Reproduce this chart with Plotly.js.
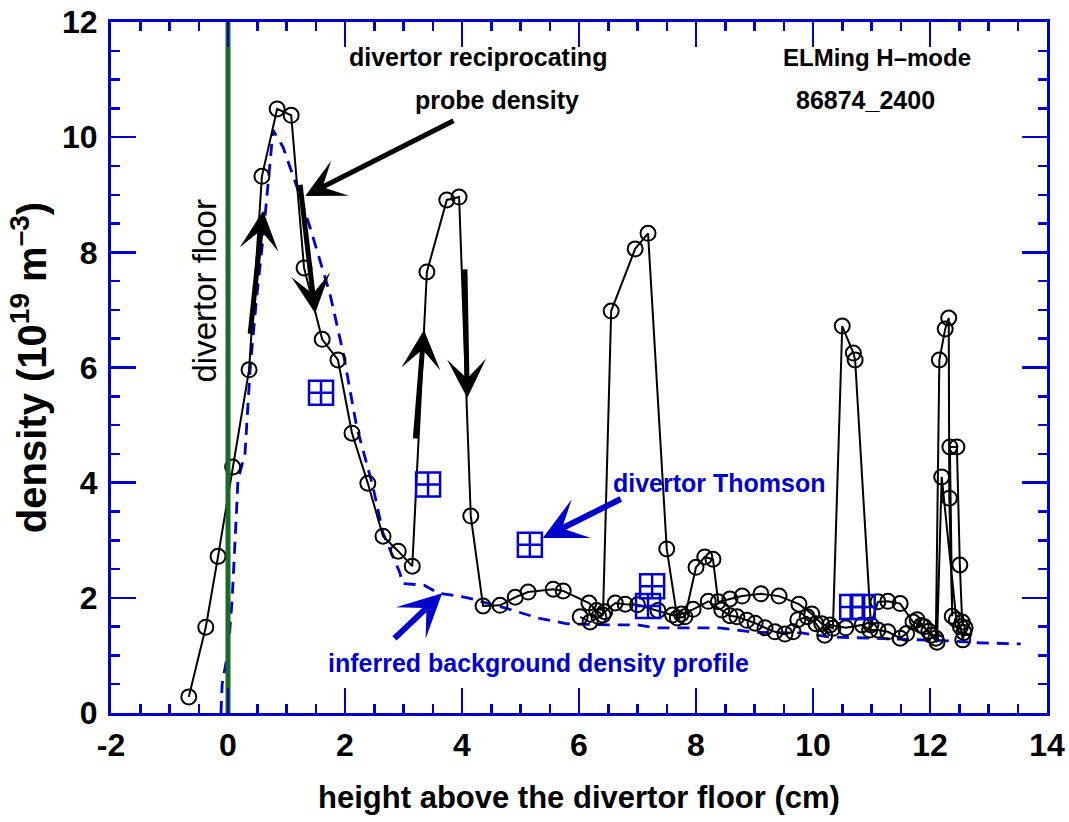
<!DOCTYPE html>
<html>
<head>
<meta charset="utf-8">
<script src="https://cdn.plot.ly/plotly-3.0.1.min.js"></script>
<style>html,body{margin:0;padding:0;background:#fff;}#chart{width:1069px;height:822px;}</style>
</head>
<body>
<div id="chart"></div>
<script>
// Reciprocating probe density (sequence in time)
var probeX = [-0.67,-0.38,-0.17,0.08,0.36,0.58,0.84,1.08,1.30,1.61,1.88,2.12,2.39,2.65,2.91,3.15,3.40,3.74,3.95,4.15,4.36,4.65,4.91,5.13,5.56,5.73,6.17,6.30,6.41,6.55,6.96,7.18,7.50,7.68,7.81,8.00,8.15,8.29,8.38,8.58,8.79,9.11,9.42,9.76,9.98,10.15,10.34,10.50,10.69,10.72,10.99,11.11,11.28,11.49,11.71,11.85,11.98,12.10,12.16,12.26,12.32,12.33,12.38,12.34,12.46,12.51,12.55,12.60,12.58,12.56,12.52,12.45,12.20,12.12,12.02,11.90,11.78,11.60,11.49,11.28,11.11,10.97,10.84,10.56,10.29,10.20,10.05,9.90,9.74,9.66,9.52,9.35,9.18,9.01,8.87,8.70,8.58,8.44,8.21,7.95,7.75,7.60,7.35,7.00,6.79,6.62,6.44,6.34,6.19,6.02];
var probeY = [0.28,1.49,2.72,4.27,5.96,9.32,10.49,10.38,7.73,6.49,6.13,4.86,3.99,3.07,2.81,2.55,7.66,8.91,8.96,3.42,1.86,1.87,2.01,2.10,2.15,2.12,1.91,1.78,1.70,6.98,8.06,8.33,2.85,1.65,1.67,2.53,2.71,2.67,1.93,1.98,2.03,2.07,2.03,1.89,1.72,1.55,1.47,6.72,6.25,6.13,1.53,1.93,1.94,1.90,1.58,1.52,1.42,1.30,6.13,6.67,6.86,3.73,1.68,4.62,4.62,2.57,1.58,1.48,1.40,1.27,1.50,1.62,4.10,1.23,1.35,1.50,1.62,1.38,1.30,1.41,1.44,1.44,1.53,1.48,1.53,1.35,1.55,1.67,1.62,1.41,1.37,1.41,1.48,1.56,1.61,1.67,1.69,1.79,1.94,1.80,1.72,1.70,1.78,1.88,1.89,1.91,1.76,1.67,1.58,1.67];

// Inferred background density profile (dashed)
var bgX = [-0.12,-0.10,-0.03,0.02,0.07,0.10,0.15,0.17,0.29,0.38,0.49,0.60,0.69,0.77,0.94,1.18,1.40,1.57,1.74,1.97,2.20,2.48,2.65,2.94,2.98,3.35,3.60,3.80,4.10,4.75,5.30,5.80,6.50,7.00,7.30,8.40,9.00,9.80,10.30,11.00,11.80,12.40,12.80,13.55];
var bgY = [0.00,0.50,0.90,1.30,1.96,2.50,3.60,4.05,4.50,6.00,7.22,8.26,9.25,10.12,9.83,9.13,8.44,7.86,7.29,6.25,4.97,3.92,3.12,2.43,2.25,2.22,2.08,2.05,2.00,1.82,1.65,1.55,1.53,1.53,1.48,1.48,1.40,1.39,1.32,1.30,1.27,1.25,1.22,1.20];

// Divertor Thomson points
var tsX = [1.59,3.42,5.16,7.25,7.18,10.67,10.85];
var tsY = [5.56,3.97,2.92,2.20,1.86,1.84,1.84];

// Divertor floor
var floorX = [0,0];
var floorY = [0,12];

// Axis ticks
var xTickVals = [-2,0,2,4,6,8,10,12,14];
var xTickText = ["-2","0","2","4","6","8","10","12","14"];
var yTickVals = [0,2,4,6,8,10,12];
var yTickText = ["0","2","4","6","8","10","12"];

// Arrows: [tailX, tailY, headX, headY]
var blackArrows = [
  [3.88,10.30,1.32,8.98],
  [0.376,6.56,0.60,8.72],
  [1.23,9.20,1.49,6.94],
  [3.20,4.74,3.35,6.65],
  [4.05,7.73,4.09,5.47]
];
var blueArrows = [
  [6.74,3.73,5.38,3.04],
  [2.82,1.27,3.66,2.08]
];

// Text labels: [x, y, text, color, bold, size, angle]
var labels = [
  [4.27,11.39,"divertor reciprocating","black",true,25,0],
  [4.60,10.64,"probe density","black",true,25,0],
  [11.09,11.39,"ELMing H–mode","black",true,24,0],
  [10.90,10.64,"86874_2400","black",true,25,0],
  [8.41,3.99,"divertor Thomson","#0000cc",true,25,0],
  [5.30,0.87,"inferred background density profile","#0000cc",true,25,0],
  [-0.40,7.33,"divertor floor","black",false,33,-90]
];

var FONT = "'Liberation Sans', Arial, sans-serif";
var BLUE = "#0000cc";

var traces = [
  {x: bgX, y: bgY, mode: 'lines', line: {color: BLUE, width: 2.8, dash: '12px,8px'}, hoverinfo: 'skip'},
  {x: probeX, y: probeY, mode: 'lines+markers', line: {color: 'black', width: 2},
   marker: {symbol: 'circle-open', size: 15, color: 'black', line: {width: 2, color: 'black'}}},
  {x: tsX, y: tsY, mode: 'markers', marker: {symbol: 'square-cross-open', size: 24, color: BLUE, line: {width: 2.5, color: BLUE}}},
  {x: floorX, y: floorY, mode: 'lines', line: {color: '#1b6a2a', width: 5}}
];

var annotations = [];
blackArrows.forEach(function(a){
  annotations.push({x: a[2], y: a[3], ax: a[0], ay: a[1], xref: 'x', yref: 'y', axref: 'x', ayref: 'y',
    text: '', showarrow: true, arrowhead: 3, arrowsize: 1.3, arrowwidth: 5, arrowcolor: 'black', standoff: 0});
});
blueArrows.forEach(function(a){
  annotations.push({x: a[2], y: a[3], ax: a[0], ay: a[1], xref: 'x', yref: 'y', axref: 'x', ayref: 'y',
    text: '', showarrow: true, arrowhead: 3, arrowsize: 1.2, arrowwidth: 6, arrowcolor: BLUE, standoff: 0});
});
labels.forEach(function(l){
  annotations.push({x: l[0], y: l[1], xref: 'x', yref: 'y', text: l[2], showarrow: false, textangle: l[6],
    font: {family: FONT, size: l[5], color: l[3], weight: l[4] ? 'bold' : 'normal'}});
});

var axisCommon = {
  showline: true, linecolor: BLUE, linewidth: 3, mirror: 'ticks',
  ticks: 'inside', ticklen: 25, tickwidth: 2.5, tickcolor: BLUE,
  showgrid: false, zeroline: false,
  tickfont: {family: FONT, size: 32, color: 'black', weight: 'bold'},
  minor: {ticks: 'inside', ticklen: 9, tickwidth: 2.5, tickcolor: BLUE, dtick: 0.5, showgrid: false}
};

var layout = {
  width: 1069, height: 822,
  margin: {l: 111, r: 22, t: 22, b: 109},
  paper_bgcolor: 'white', plot_bgcolor: 'white',
  showlegend: false,
  xaxis: Object.assign({}, axisCommon, {
    range: [-2, 14], tickmode: 'array', tickvals: xTickVals, ticktext: xTickText,
    ticklabelstandoff: 2,
    title: {text: 'height above the divertor floor (cm)', standoff: 24,
      font: {family: FONT, size: 31, color: 'black', weight: 'bold'}}
  }),
  yaxis: Object.assign({}, axisCommon, {
    range: [0, 12], tickmode: 'array', tickvals: yTickVals, ticktext: yTickText,
    ticklabelstandoff: 4,
    title: {text: 'density (10<sup>19</sup> m<sup>–3</sup>)', standoff: 4,
      font: {family: FONT, size: 40, color: 'black', weight: 'bold'}}
  }),
  annotations: annotations
};

Plotly.newPlot('chart', traces, layout, {staticPlot: true, displayModeBar: false});
</script>
</body>
</html>
